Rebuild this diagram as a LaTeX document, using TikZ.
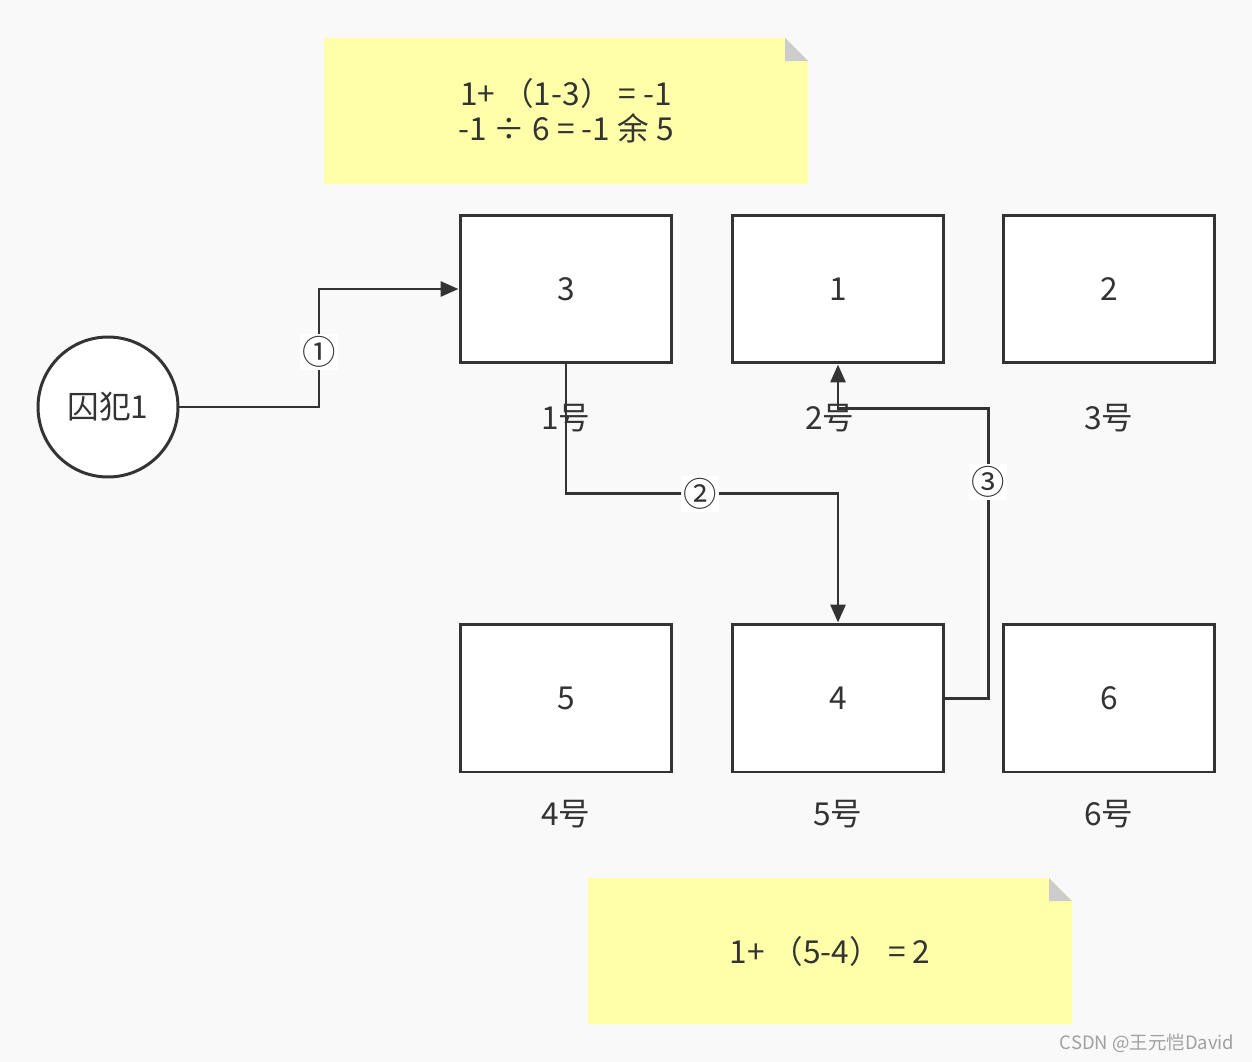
\documentclass[tikz,border=0pt]{standalone}
\usepackage{fontspec}
\newfontfamily\cjk{Noto Sans CJK SC}
\usetikzlibrary{arrows.meta}
\definecolor{bg}{HTML}{F9F9F9}
\definecolor{ink}{HTML}{333333}
\definecolor{noteyellow}{HTML}{FFFFA9}
\definecolor{fold}{HTML}{CCCCCC}
\definecolor{wm}{HTML}{A0A0A0}
\tikzset{
  txt/.style={font=\cjk\fontsize{18}{21}\selectfont, text=ink, inner sep=0pt},
  cell/.style={draw=ink, line width=1.7pt, fill=white, minimum width=4.24cm, minimum height=2.96cm, inner sep=0pt, font=\cjk\fontsize{18}{21}\selectfont, text=ink},
  conn/.style={draw=ink, line width=1.7pt, -{Triangle[length=0.36cm,width=0.3cm]}},
  circlab/.style={fill=white, text=ink, inner sep=1.5pt, font=\cjk\fontsize{19}{21}\selectfont},
}
\begin{document}
\begin{tikzpicture}[x=0.02cm, y=-0.02cm]
\fill[bg] (0,0) rectangle (1252,1062);
\useasboundingbox (0,0) rectangle (1252,1062);
% notes
\fill[noteyellow] (324,38) -- (785,38) -- (808,61) -- (808,184) -- (324,184) -- cycle;
\fill[fold] (785,38) -- (808,61) -- (785,61) -- cycle;
\node[txt, align=center] (n1) at (566,111) {1+ （1-3） = -1\\[-1pt]-1 ÷ 6 = -1 余 5};
\fill[noteyellow] (588,878) -- (1049,878) -- (1072,901) -- (1072,1024) -- (588,1024) -- cycle;
\fill[fold] (1049,878) -- (1072,901) -- (1049,901) -- cycle;
\node[txt] (n2) at (830,951) {1+ （5-4） = 2};
% prisoner
\node[draw=ink, line width=1.7pt, fill=white, circle, minimum size=2.8cm, inner sep=0pt, font=\cjk\fontsize{18}{21}\selectfont, text=ink] (c) at (108,407) {囚犯1};
% cells
\node[cell] (b3) at (566,289) {3};
\node[cell] (b1) at (838,289) {1};
\node[cell] (b2) at (1109,289) {2};
\node[cell] (b5) at (566,698) {5};
\node[cell] (b4) at (838,698) {4};
\node[cell] (b6) at (1109,698) {6};
% connectors
\draw[conn] (c.east) -- (319,407) -- (319,289) -- (b3.west);
\draw[conn] (b3.south) -- (566,493) -- (838,493) -- (b4.north);
\draw[conn] (b4.east) -- (988,698) -- (988,408) -- (838,408) -- (b1.south);
\node[circlab] (l1) at (319,352) {①};
\node[circlab] (l2) at (700,494) {②};
\node[circlab] (l3) at (988,482) {③};
% cell labels
\node[txt] (t1) at (566,418) {1号};
\node[txt] (t2) at (830,418) {2号};
\node[txt] (t3) at (1109,418) {3号};
\node[txt] (t4) at (566,814) {4号};
\node[txt] (t5) at (838,814) {5号};
\node[txt] (t6) at (1109,814) {6号};
% watermark
\node[font=\cjk\fontsize{10.5}{12}\selectfont, text=wm, inner sep=0pt] (w) at (1147,1043) {CSDN @王元恺David};
\end{tikzpicture}
\end{document}
